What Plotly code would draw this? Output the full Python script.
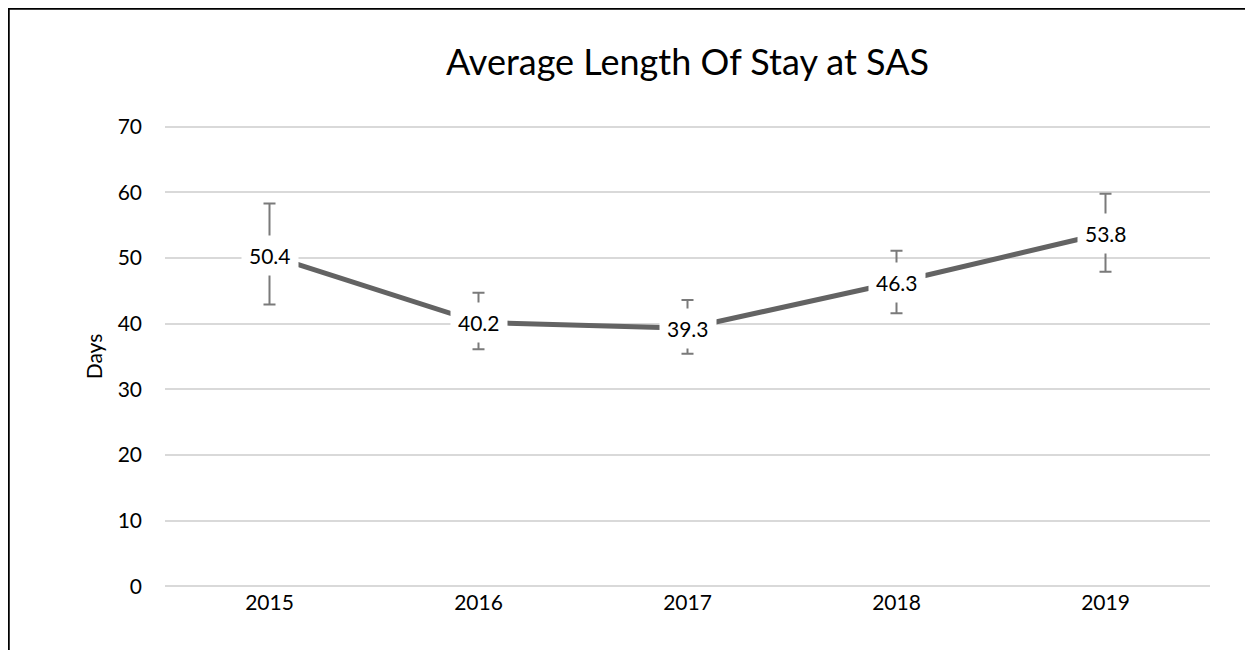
import plotly.graph_objects as go

years = ["2015", "2016", "2017", "2018", "2019"]
avg_days = [50.4, 40.2, 39.3, 46.3, 53.8]
err_plus = [7.9, 4.5, 4.3, 4.8, 6.0]
err_minus = [7.5, 4.1, 3.9, 4.7, 5.9]
y_ticks = [0, 10, 20, 30, 40, 50, 60, 70]

FONT = "Lato"
W, H = 1245, 642
ML, MR, MT, MB = 157, 43, 117, 62

fig = go.Figure()
fig.add_trace(go.Scatter(
    x=years, y=avg_days, mode="lines",
    line=dict(color="#636363", width=5),
    error_y=dict(type="data", symmetric=False, array=err_plus, arrayminus=err_minus,
                 color="#7a7a7a", thickness=2, width=6),
    showlegend=False, hoverinfo="skip",
))

for i, v in enumerate(avg_days):
    fig.add_annotation(x=i, y=v, xref="x", yref="y", text=f"{v:.1f}", showarrow=False,
                       font=dict(family=FONT, size=21, color="#000000"),
                       bgcolor="#ffffff", borderpad=7)

pw, ph = W - ML - MR, H - MT - MB
fig.add_shape(type="rect", xref="paper", yref="paper",
              x0=(0.5 - ML) / pw, x1=1.3, y0=(ph + MT - 0.5) / ph, y1=-0.4,
              line=dict(color="#000000", width=2.5), fillcolor="rgba(0,0,0,0)")

fig.update_layout(
    width=W, height=H,
    margin=dict(l=ML, r=MR, t=MT, b=MB),
    paper_bgcolor="#ffffff", plot_bgcolor="#ffffff",
    font=dict(family=FONT, size=21, color="#000000"),
    title=dict(text="Average Length Of Stay at SAS", x=0.5, xref="paper", xanchor="center",
               y=1 - 54 / H, yref="container", yanchor="middle",
               font=dict(family=FONT, size=36, color="#000000")),
)
fig.update_xaxes(type="category", range=[-0.5, 4.5], showgrid=False, showline=False,
                 ticks="", tickfont=dict(family=FONT, size=21), zeroline=False)
fig.update_yaxes(range=[-0.25, 70.25], tickvals=y_ticks, showgrid=True, gridcolor="#d9d9d9",
                 gridwidth=1.5, zeroline=False, showline=False, ticks="",
                 ticklabelstandoff=22,
                 tickfont=dict(family=FONT, size=21),
                 title=dict(text="Days", font=dict(family=FONT, size=21), standoff=9))

fig.write_html("out.html")
